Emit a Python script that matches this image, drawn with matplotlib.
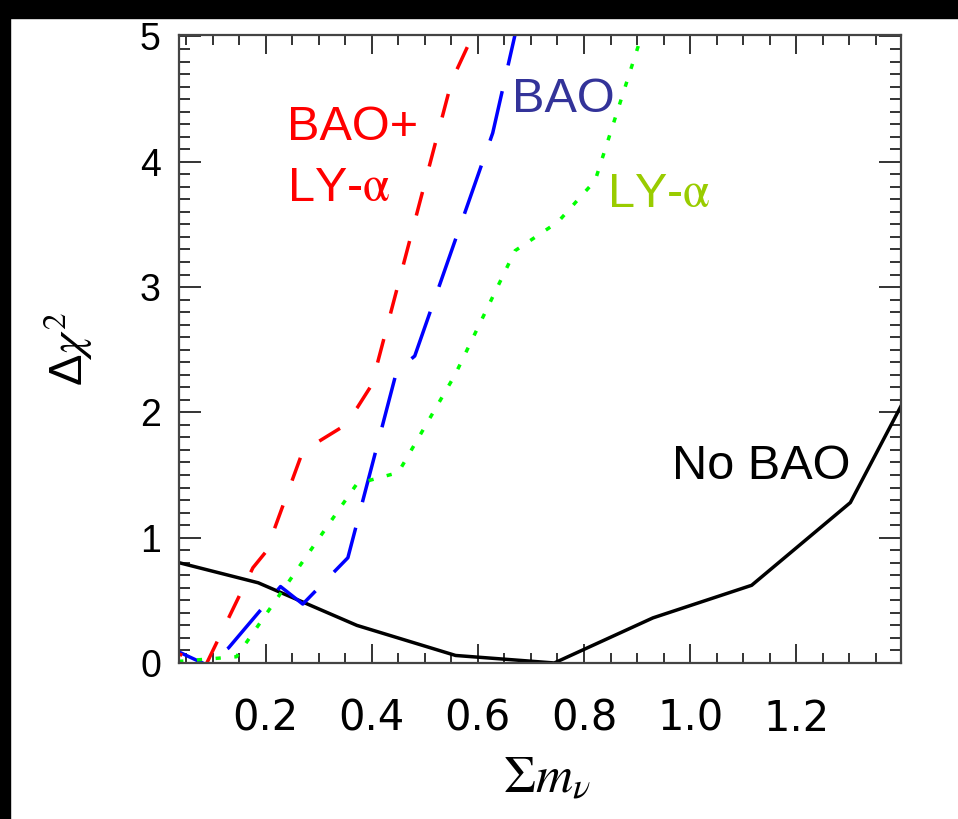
import matplotlib
matplotlib.use("Agg")
import matplotlib.pyplot as plt
from matplotlib.patches import Rectangle
from matplotlib.ticker import MultipleLocator

# delta chi^2 profiles vs summed neutrino mass
mnu_nobao = [0.0, 0.186, 0.372, 0.558, 0.744, 0.93, 1.116, 1.302, 1.488]
chi2_nobao = [0.84, 0.64, 0.30, 0.06, 0.0, 0.36, 0.62, 1.28, 2.78]

mnu_bao = [0.0, 0.086, 0.13, 0.228, 0.27, 0.355, 0.447, 0.481, 0.628, 0.68]
chi2_bao = [0.16, -0.01, 0.12, 0.61, 0.47, 0.84, 2.33, 2.45, 4.23, 5.2]

mnu_bao_lya = [0.0, 0.088, 0.176, 0.201, 0.270, 0.343, 0.373, 0.400, 0.551, 0.585, 0.62]
chi2_bao_lya = [0.13, -0.01, 0.76, 0.89, 1.69, 1.88, 2.04, 2.22, 4.65, 4.96, 5.38]

mnu_lya = [0.0, 0.145, 0.372, 0.45, 0.557, 0.67, 0.751, 0.821, 0.93]
chi2_lya = [0.0, 0.05, 1.43, 1.52, 2.30, 3.29, 3.52, 3.85, 5.29]

xticks = [0.2, 0.4, 0.6, 0.8, 1.0, 1.2]
yticks = [0, 1, 2, 3, 4, 5]

fig = plt.figure(figsize=(9.58, 8.19), dpi=100)
ax = fig.add_axes([0.1868, 0.1905, 0.7537, 0.7668])

lw = 2.5
ax.plot(mnu_nobao, chi2_nobao, color="black", lw=lw)
ax.plot(mnu_bao, chi2_bao, color="#0000ff", lw=lw, dashes=(14.7, 7.6),
        dash_capstyle="butt")
ax.plot(mnu_bao_lya, chi2_bao_lya, color="#ff0000", lw=lw, dashes=(7.0, 7.6),
        dash_capstyle="butt")
ax.plot(mnu_lya, chi2_lya, color="#00ff00", lw=lw, dashes=(1.5, 3.9),
        dash_capstyle="butt")

ax.set_xlim(0.0366, 1.3975)
ax.set_ylim(0.0, 5.012)
ax.set_xticks(xticks)
ax.set_xticklabels([f"{v:.1f}" for v in xticks], family="DejaVu Sans", fontsize=30)
ax.set_yticks(yticks)
ax.set_yticklabels([str(v) for v in yticks], family="Liberation Sans", fontsize=27)
ax.xaxis.set_minor_locator(MultipleLocator(0.05))
ax.yaxis.set_minor_locator(MultipleLocator(0.1))
ax.tick_params(which="both", direction="in", top=True, right=True,
               color="#333333", width=1.4)
ax.tick_params(axis="x", which="major", length=13.7, pad=25)
ax.tick_params(axis="x", which="minor", length=7.0)
ax.tick_params(axis="y", which="major", length=15.6, pad=13)
ax.tick_params(axis="y", which="minor", length=8.0)
for sp in ax.spines.values():
    sp.set_linewidth(1.6)
    sp.set_color("#444444")

ax.set_xlabel(r"$\Sigma m_{\nu}$", fontsize=37, math_fontfamily="stix")
ax.xaxis.set_label_coords(0.51, -0.145)
ax.set_ylabel(r"Δ$\chi^{2}$", fontsize=34, family="Liberation Sans",
              math_fontfamily="stix")
ax.yaxis.set_label_coords(-0.116, 0.5)

lab = dict(fontsize=35, family="Liberation Sans", math_fontfamily="stix",
           ha="left", va="baseline")
ax.text(0.2396, 4.173, "BAO+", color="#ff0000", **lab)
ax.text(0.2396, 3.69, r"LY-$\mathrm{\alpha}$", color="#ff0000", **lab)
ax.text(0.664, 4.40, "BAO", color="#333399", **lab)
ax.text(0.843, 3.64, r"LY-$\mathrm{\alpha}$", color="#99cc00", **lab)
ax.text(0.965, 1.471, "No BAO", color="black", **lab)

# black frame strips along the top and left edges
fig.patches.append(Rectangle((0, 1 - 18 / 819), 1, 18 / 819, transform=fig.transFigure,
                             color="black", zorder=10))
fig.patches.append(Rectangle((0, 0), 10 / 958, 1, transform=fig.transFigure,
                             color="black", zorder=10))

fig.savefig("out.png", dpi=100)
